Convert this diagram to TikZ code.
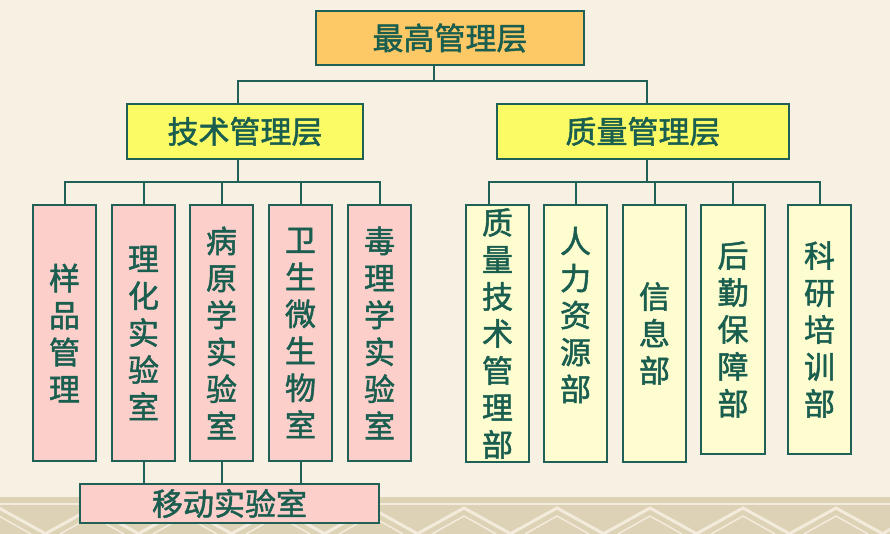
\documentclass[tikz,border=0pt]{standalone}
\usepackage{fontspec}
\newfontfamily\cjk[FakeBold=1.6]{Noto Sans CJK SC}
\definecolor{bgc}{HTML}{F7F1E4}
\definecolor{bandc}{HTML}{DED2B6}
\definecolor{bandl}{HTML}{F3ECDC}
\definecolor{linec}{HTML}{1F6156}
\definecolor{txtc}{HTML}{1A5E4F}
\definecolor{orangec}{HTML}{FDC866}
\definecolor{yellowc}{HTML}{FBFB66}
\definecolor{pinkc}{HTML}{FCCFCB}
\definecolor{paleyc}{HTML}{FDFDCF}
\tikzset{
  box/.style={draw=linec, line width=2pt, inner sep=0pt, text=txtc,
    font=\cjk\fontsize{31}{37}\selectfont, align=center},
  topbox/.style={box, fill=orangec, minimum width=268pt, minimum height=54pt},
  midbox/.style={box, fill=yellowc, minimum height=55pt},
  labbox/.style={box, fill=pinkc, minimum width=63pt, minimum height=256pt},
  depbox/.style={box, fill=paleyc, minimum width=63pt, minimum height=257pt},
  vtext/.style={text=txtc, inner sep=0pt, font=\cjk\fontsize{31}{37}\selectfont, align=center},
  wire/.style={draw=linec, line width=2pt}
}
\begin{document}
\begin{tikzpicture}[x=1pt,y=-1pt]
\useasboundingbox (0,0) rectangle (890,534);
\fill[bgc] (0,0) rectangle (890,534);
% decorative bottom band
\fill[bandc] (0,497) rectangle (890,534);
\fill[bandl] (0,503) rectangle (890,505);
\foreach \i in {-1,...,9}{
  \draw[bandl, line width=3pt] (93*\i+45,534) -- (93*\i+92,508) -- (93*\i+139,534);
  \draw[bandl, line width=1.5pt] (93*\i+60,534) -- (93*\i+92,516) -- (93*\i+124,534);
}
% boxes
\node[topbox] (top) at (450,38) {最高管理层};
\node[midbox, minimum width=236pt] (tech) at (245,131.5) {技术管理层};
\node[midbox, minimum width=292pt] (qual) at (643,131.5) {质量管理层};
\node[labbox] (b1) at (64.5,333) {样\\品\\管\\理};
\node[labbox] (b2) at (143.5,333) {理\\化\\实\\验\\室};
\node[labbox] (b3) at (221.5,333) {病\\原\\学\\实\\验\\室};
\node[labbox] (b4) at (300.5,333) {卫\\生\\微\\生\\物\\室};
\node[labbox] (b5) at (379.5,333) {毒\\理\\学\\实\\验\\室};
\node[box, fill=pinkc, minimum width=299pt, minimum height=39pt] (mob) at (229.5,503.5) {移动实验室};
\node[depbox] (r1) at (497.5,333.5) {质\\量\\技\\术\\管\\理\\部};
\node[depbox] (r2) at (575.5,333.5) {};
\node[vtext] (r2t) at (575.5,315) {人\\力\\资\\源\\部};
\node[depbox] (r3) at (654.5,333.5) {信\\息\\部};
\node[depbox, minimum width=64pt, minimum height=249pt] (r4) at (733,329.5) {后\\勤\\保\\障\\部};
\node[depbox, minimum height=249pt] (r5) at (819.5,329.5) {科\\研\\培\\训\\部};
% junctions
\coordinate (j0) at (434,81);
\coordinate (busL) at (238,182);
\coordinate (busR) at (647,182);
% connectors
\draw[wire] ([xshift=-16pt]top.south) -- (j0);
\draw[wire] ([xshift=-7pt]tech.north) |- (j0) -| ([xshift=4pt]qual.north);
\draw[wire] ([xshift=-7pt]tech.south) -- (busL);
\draw[wire] (b1.north) |- (busL) -| (b5.north);
\foreach \b in {b2,b3,b4} \draw[wire] (\b.north) -- (\b.north |- busL);
\draw[wire] ([xshift=4pt]qual.south) -- (busR);
\draw[wire] ([xshift=-8.5pt]r1.north) |- (busR) -| (r5.north);
\foreach \b in {r2,r3,r4} \draw[wire] (\b.north) -- (\b.north |- busR);
\foreach \b in {b2,b3,b4} \draw[wire] (\b.south) -- (\b.south |- mob.north);
\end{tikzpicture}
\end{document}
